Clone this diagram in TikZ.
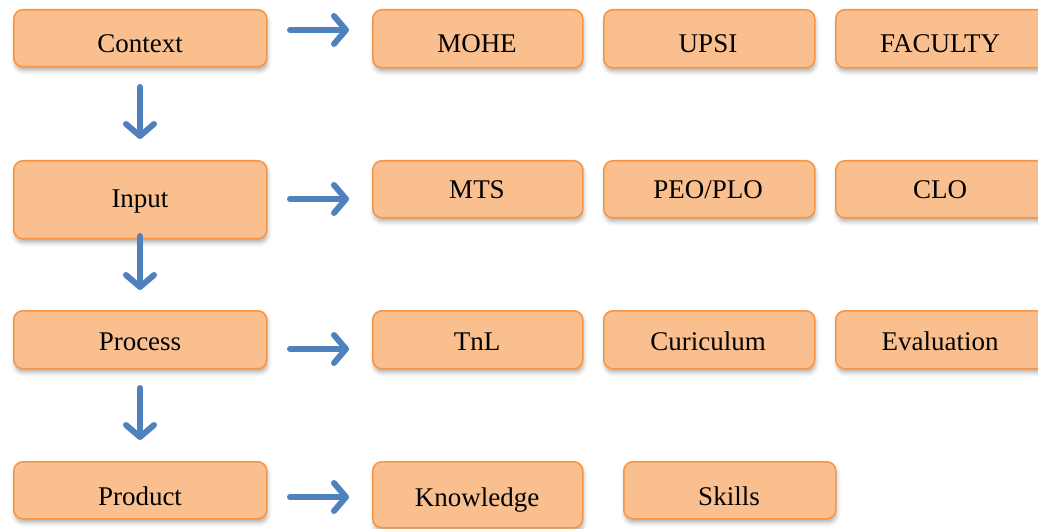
\documentclass[tikz,border=0pt]{standalone}
\usepackage{fontspec}
\setmainfont{Liberation Serif}
\usetikzlibrary{arrows.meta,shadows.blur}
\definecolor{boxfill}{HTML}{F9BF8F}
\definecolor{boxline}{HTML}{F79646}
\definecolor{arr}{HTML}{4F81BD}
\tikzset{
  box/.style={draw=boxline, line width=1.6pt, fill=boxfill, rounded corners=9pt,
    blur shadow={shadow xshift=1pt, shadow yshift=-4pt, shadow blur radius=4pt, shadow opacity=30}},
  lbl/.style={font=\fontsize{27}{30}\selectfont, anchor=base},
  flow/.style={draw=arr, line width=6pt, line cap=round,
    -{Straight Barb[length=12pt, width=28pt, line width=6pt, round]}}
}
\begin{document}
\begin{tikzpicture}[x=1pt,y=-1pt]
\useasboundingbox (0,0) rectangle (1038,529);
% left column
\node[box, minimum width=253pt, minimum height=57pt, anchor=north west] (ctx) at (13,9) {};
\node[lbl] (ctxt) at (140,53) {Context};
\node[box, minimum width=253pt, minimum height=78pt, anchor=north west] (inp) at (13,160) {};
\node[lbl] (inpt) at (140,208) {Input};
\node[box, minimum width=253pt, minimum height=58pt, anchor=north west] (pro) at (13,310) {};
\node[lbl] (prot) at (140,350) {Process};
\node[box, minimum width=253pt, minimum height=57pt, anchor=north west] (prd) at (13,461) {};
\node[lbl] (prdt) at (140,505) {Product};
% row 1
\node[box, minimum width=210pt, minimum height=58pt, anchor=north west] (mohe) at (372,9) {};
\node[lbl] (mohet) at (477,53) {MOHE};
\node[box, minimum width=211pt, minimum height=58pt, anchor=north west] (upsi) at (603,9) {};
\node[lbl] (upsit) at (708,53) {UPSI};
\node[box, minimum width=215pt, minimum height=58pt, anchor=north west] (fac) at (835,9) {};
\node[lbl] (fact) at (940,53) {FACULTY};
% row 2
\node[box, minimum width=210pt, minimum height=57pt, anchor=north west] (mts) at (372,160) {};
\node[lbl] (mtst) at (477,199) {MTS};
\node[box, minimum width=211pt, minimum height=57pt, anchor=north west] (peo) at (603,160) {};
\node[lbl] (peot) at (708,199) {PEO/PLO};
\node[box, minimum width=215pt, minimum height=57pt, anchor=north west] (clo) at (835,160) {};
\node[lbl] (clot) at (940,199) {CLO};
% row 3
\node[box, minimum width=210pt, minimum height=58pt, anchor=north west] (tnl) at (372,310) {};
\node[lbl] (tnlt) at (477,350) {TnL};
\node[box, minimum width=211pt, minimum height=58pt, anchor=north west] (cur) at (603,310) {};
\node[lbl] (curt) at (708,350) {Curiculum};
\node[box, minimum width=215pt, minimum height=58pt, anchor=north west] (eva) at (835,310) {};
\node[lbl] (evat) at (940,350) {Evaluation};
% row 4
\node[box, minimum width=210pt, minimum height=66pt, anchor=north west] (kno) at (372,461) {};
\node[lbl] (knot) at (477,506) {Knowledge};
\node[box, minimum width=212pt, minimum height=57pt, anchor=north west] (ski) at (623,461) {};
\node[lbl] (skit) at (729,505) {Skills};
% arrows
\coordinate (a1s) at (290,30); \coordinate (a1e) at (349,30);
\coordinate (a2s) at (290,199); \coordinate (a2e) at (349,199);
\coordinate (a3s) at (290,349); \coordinate (a3e) at (349,349);
\coordinate (a4s) at (290,497); \coordinate (a4e) at (349,497);
\draw[flow] (a1s) -- (a1e);
\draw[flow] (a2s) -- (a2e);
\draw[flow] (a3s) -- (a3e);
\draw[flow] (a4s) -- (a4e);
\coordinate (d1s) at (140,87); \coordinate (d1e) at (140,139);
\coordinate (d2s) at (140,236); \coordinate (d2e) at (140,290);
\coordinate (d3s) at (140,388); \coordinate (d3e) at (140,440);
\draw[flow] (d1s) -- (d1e);
\draw[flow] (d2s) -- (d2e);
\draw[flow] (d3s) -- (d3e);
\end{tikzpicture}
\end{document}
